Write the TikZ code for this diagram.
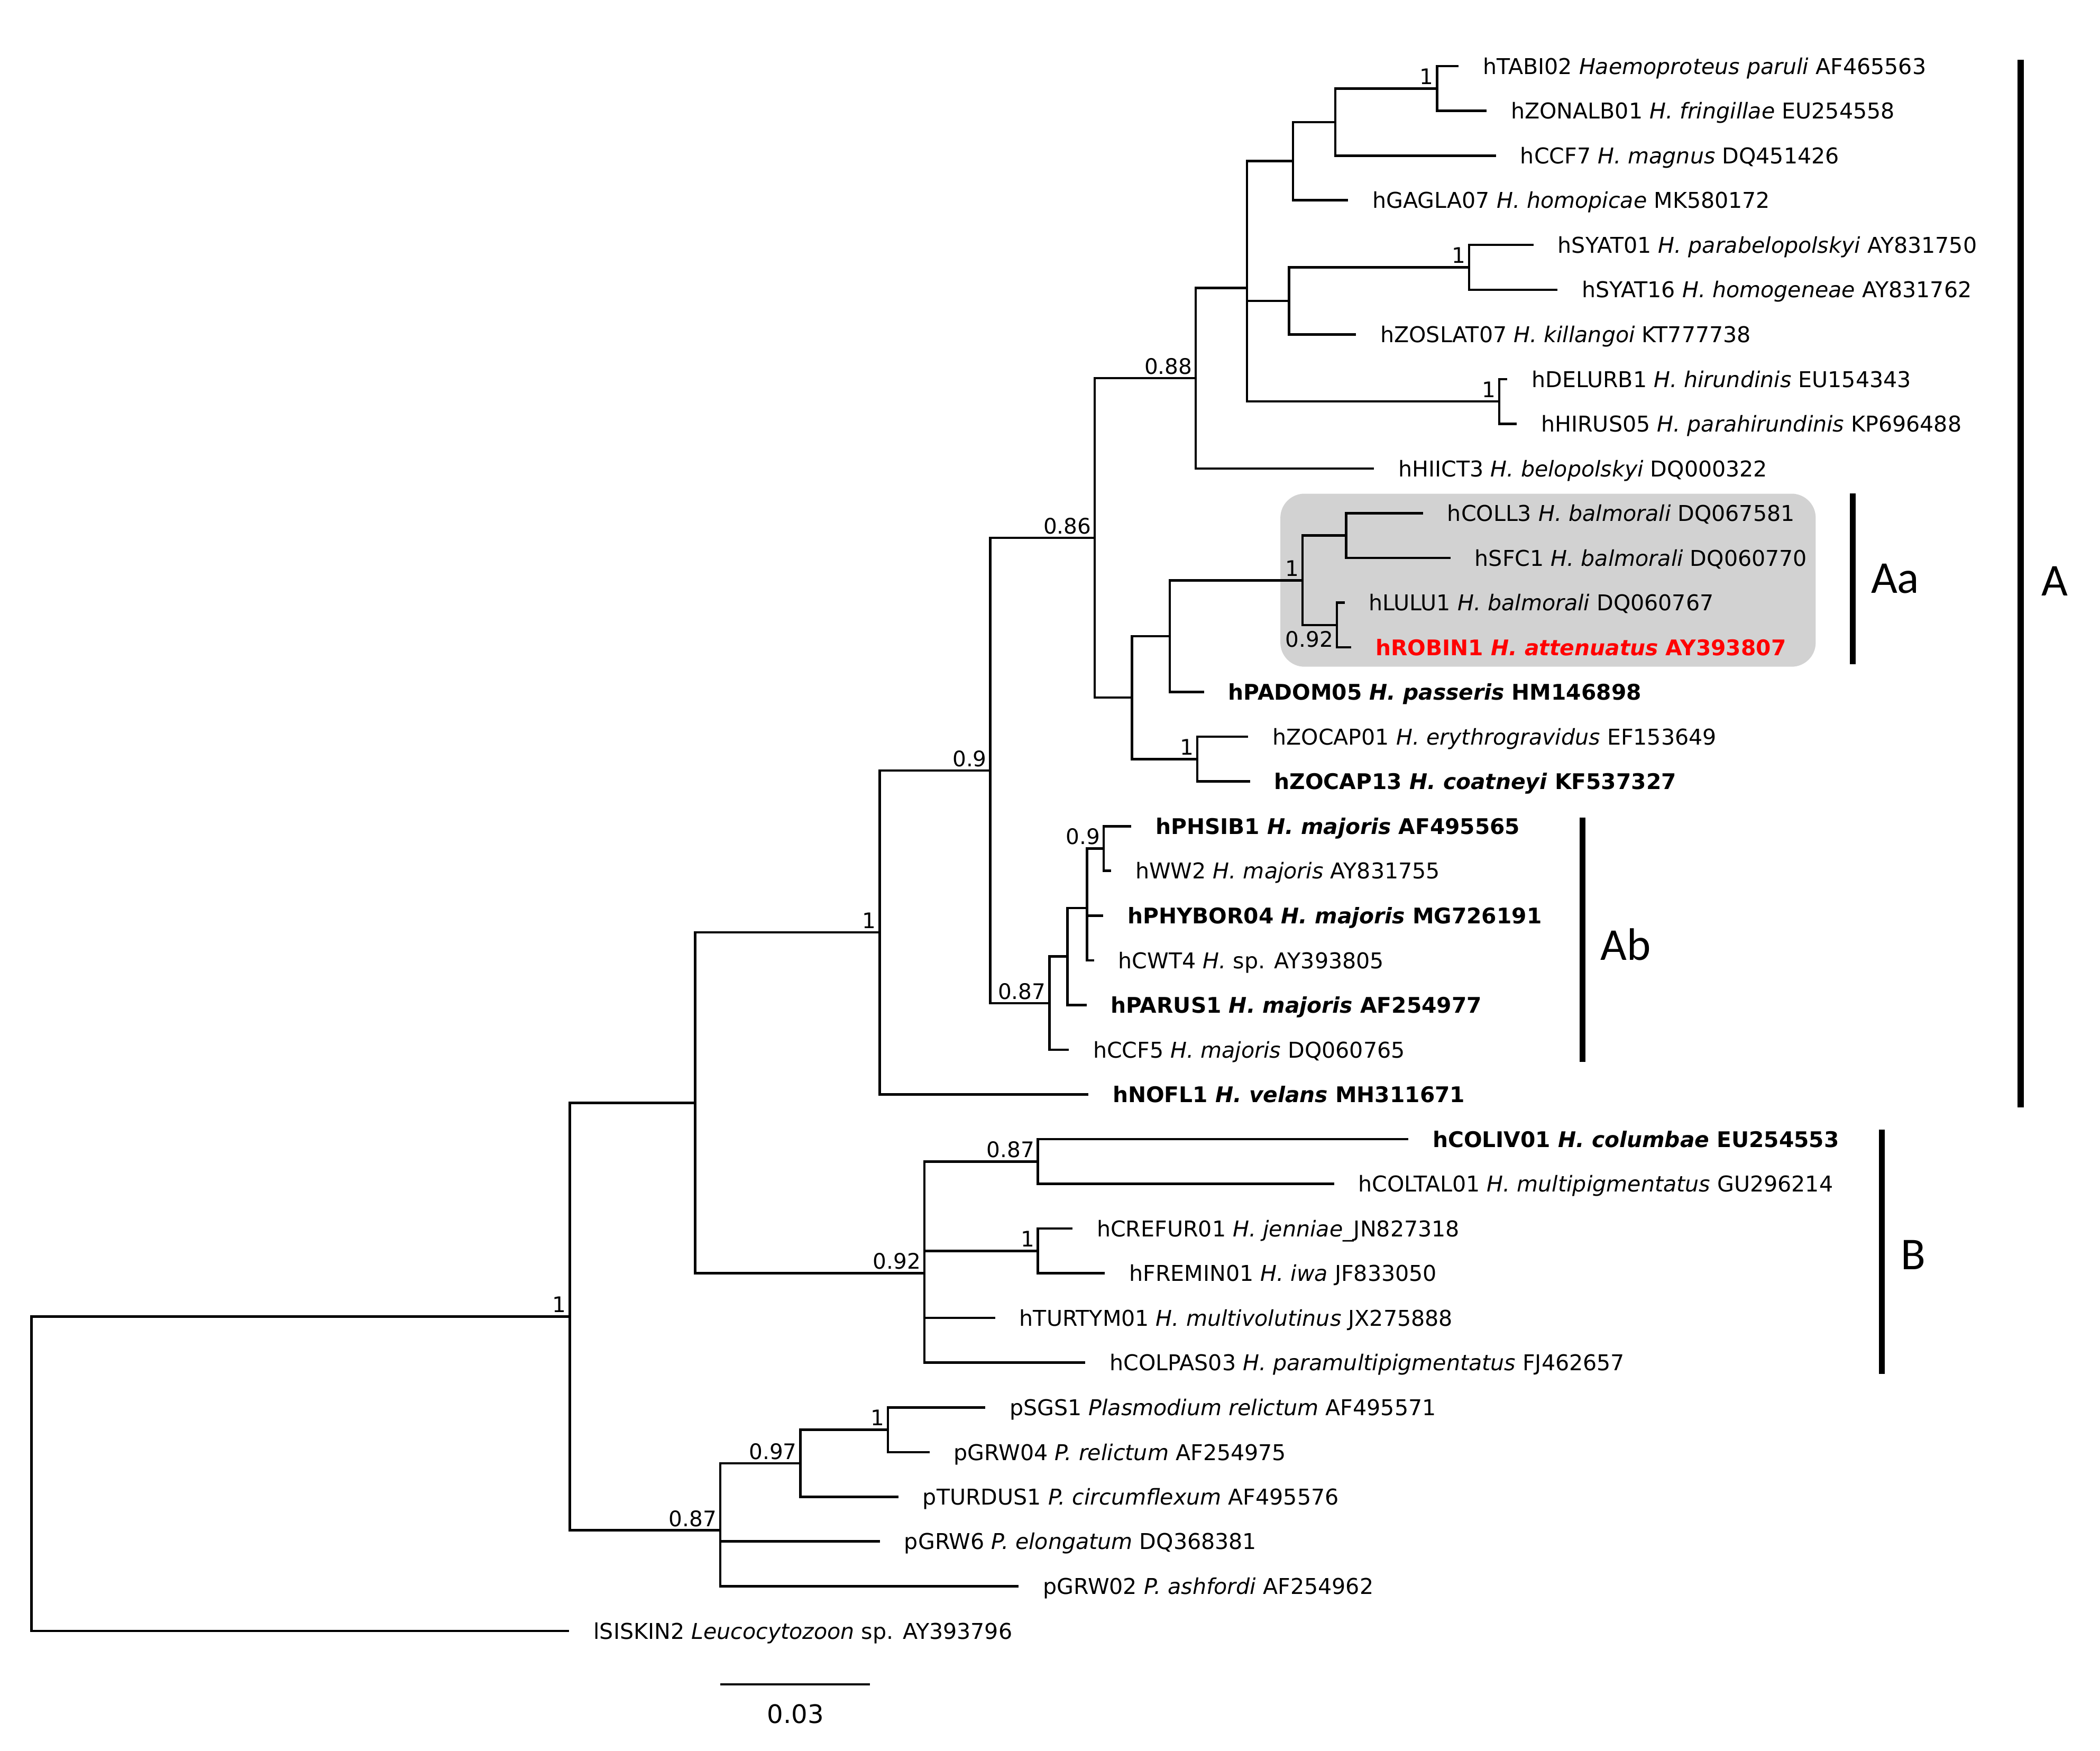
\documentclass[tikz,border=0pt]{standalone}
\usepackage{fontspec}
\setmainfont{DejaVu Sans}
\newfontfamily\cladefont{Carlito}
\usepackage{tikz}
\usetikzlibrary{calc}

\definecolor{cladegray}{RGB}{210,210,210}
\definecolor{hostred}{RGB}{255,0,0}

\tikzset{
  branch/.style={line width=1.8pt},
  cladebar/.style={line width=4.5pt},
  leaf/.style={anchor=base west, inner sep=0pt, font=\fontsize{16.25}{19}\selectfont},
  leafbold/.style={leaf, font=\fontsize{16.1}{19}\selectfont\bfseries},
  supp/.style={anchor=base east, inner sep=0pt, font=\fontsize{16}{19}\selectfont},
  cladename/.style={inner sep=0pt, font=\fontsize{34}{40}\selectfont\cladefont},
}

\begin{document}
\begin{tikzpicture}[x=1pt,y=1pt,yscale=-1]

%set diagram size to the figure, y runs downwards
\useasboundingbox (0,0) rectangle (1568,1307);

%Shaded box [clade Aa]
\fill [cladegray, rounded corners=18pt] (956,368.6) rectangle (1355.7,497.8);

% Tips
\coordinate (l1) at (1089,49.4);
\coordinate (l2) at (1110,82.8);
\coordinate (l3) at (1117,116.2);
\coordinate (l4) at (1006.6,149.5);
\coordinate (l5) at (1145,182.9);
\coordinate (l6) at (1163,216.3);
\coordinate (l7) at (1012.5,249.7);
\coordinate (l8) at (1125.5,283.1);
\coordinate (l9) at (1132.5,316.4);
\coordinate (l10) at (1026,349.8);
\coordinate (l11) at (1062.5,383.2);
\coordinate (l12) at (1083,416.6);
\coordinate (l13) at (1004,450);
\coordinate (l14) at (1009,483.3);
\coordinate (l15) at (899,516.7);
\coordinate (l16) at (932,550.1);
\coordinate (l17) at (933.3,583.5);
\coordinate (l18) at (844.6,616.9);
\coordinate (l19) at (829.6,650.2);
\coordinate (l20) at (823.7,683.6);
\coordinate (l21) at (816.8,717);
\coordinate (l22) at (811.3,750.4);
\coordinate (l23) at (798,783.8);
\coordinate (l24) at (812.6,817.1);
\coordinate (l25) at (1051.5,850.5);
\coordinate (l26) at (996.1,883.9);
\coordinate (l27) at (800.8,917.3);
\coordinate (l28) at (825,950.7);
\coordinate (l29) at (743,984);
\coordinate (l30) at (810.3,1017.4);
\coordinate (l31) at (735.6,1050.8);
\coordinate (l32) at (694,1084.2);
\coordinate (l33) at (670.8,1117.6);
\coordinate (l34) at (657,1150.9);
\coordinate (l35) at (760.5,1184.3);
\coordinate (l36) at (425,1217.7);

% Inner nodes
\coordinate (n1) at (1073,66.1);
\coordinate (n2) at (997,91.15);
\coordinate (n3) at (965.5,120.3);
\coordinate (n4) at (1097,199.6);
\coordinate (n5) at (962.5,224.65);
\coordinate (n6) at (1119.5,299.75);
\coordinate (n7) at (931,214.9);
\coordinate (n8) at (892.8,282.35);
\coordinate (n9) at (817.4,401.6);
\coordinate (n10) at (845.3,520.9);
\coordinate (n11) at (873.5,475);
\coordinate (n12) at (972.6,433.3);
\coordinate (n13) at (1005,399.9);
\coordinate (n14) at (998.2,466.65);
\coordinate (n15) at (894,566.8);
\coordinate (n16) at (739.4,575.3);
\coordinate (n17) at (783.5,749);
\coordinate (n18) at (797,714.2);
\coordinate (n19) at (811.7,678.05);
\coordinate (n20) at (824,633.55);
\coordinate (n21) at (656.8,696.2);
\coordinate (n22) at (775,867.2);
\coordinate (n23) at (775,934);
\coordinate (n24) at (690.2,950.65);
\coordinate (n25) at (519,823.4);
\coordinate (n26) at (425.4,983);
\coordinate (n27) at (663,1067.5);
\coordinate (n28) at (597.6,1092.55);
\coordinate (n29) at (537.8,1142.6);
\coordinate (root) at (23.6,1100.35);

%Branches
\draw [branch] (n1) |- (l1) (n1) |- (l2);
\draw [branch] (n2) |- (n1) (n2) |- (l3);
\draw [branch] (n3) |- (n2) (n3) |- (l4);
\draw [branch] (n4) |- (l5) (n4) |- (l6);
\draw [branch] (n5) |- (n4) (n5) |- (l7);
\draw [branch] (n6) |- (l8) (n6) |- (l9);
\draw [branch] (n7) |- (n3) (n7) |- (n5) (n7) |- (n6);
\draw [branch] (n8) |- (n7) (n8) |- (l10);
\draw [branch] (n13) |- (l11) (n13) |- (l12);
\draw [branch] (n14) |- (l13) (n14) |- (l14);
\draw [branch] (n12) |- (n13) (n12) |- (n14);
\draw [branch] (n11) |- (n12) (n11) |- (l15);
\draw [branch] (n15) |- (l16) (n15) |- (l17);
\draw [branch] (n10) |- (n11) (n10) |- (n15);
\draw [branch] (n9) |- (n8) (n9) |- (n10);
\draw [branch] (n20) |- (l18) (n20) |- (l19);
\draw [branch] (n19) |- (n20) (n19) |- (l20) (n19) |- (l21);
\draw [branch] (n18) |- (n19) (n18) |- (l22);
\draw [branch] (n17) |- (n18) (n17) |- (l23);
\draw [branch] (n16) |- (n9) (n16) |- (n17);
\draw [branch] (n21) |- (n16) (n21) |- (l24);
\draw [branch] (n22) |- (l25) (n22) |- (l26);
\draw [branch] (n23) |- (l27) (n23) |- (l28);
\draw [branch] (n24) |- (n22) (n24) |- (n23) (n24) |- (l29) (n24) |- (l30);
\draw [branch] (n25) |- (n21) (n25) |- (n24);
\draw [branch] (n27) |- (l31) (n27) |- (l32);
\draw [branch] (n28) |- (n27) (n28) |- (l33);
\draw [branch] (n29) |- (n28) (n29) |- (l34) (n29) |- (l35);
\draw [branch] (n26) |- (n25) (n26) |- (n29);
\draw [branch] (root) |- (n26) (root) |- (l36);

% Text Node
\node [leaf] (t1) at ($(l1)+(18,6)$) {hTABI02 \textit{Haemoproteus paruli} AF465563};
\node [leaf] (t2) at ($(l2)+(18,6)$) {hZONALB01 \textit{H. fringillae} EU254558};
\node [leaf] (t3) at ($(l3)+(18,6)$) {hCCF7 \textit{H. magnus} DQ451426};
\node [leaf] (t4) at ($(l4)+(18,6)$) {hGAGLA07 \textit{H. homopicae} MK580172};
\node [leaf] (t5) at ($(l5)+(18,6)$) {hSYAT01 \textit{H. parabelopolskyi} AY831750};
\node [leaf] (t6) at ($(l6)+(18,6)$) {hSYAT16 \textit{H. homogeneae} AY831762};
\node [leaf] (t7) at ($(l7)+(18,6)$) {hZOSLAT07 \textit{H. killangoi} KT777738};
\node [leaf] (t8) at ($(l8)+(18,6)$) {hDELURB1 \textit{H. hirundinis} EU154343};
\node [leaf] (t9) at ($(l9)+(18,6)$) {hHIRUS05 \textit{H. parahirundinis} KP696488};
\node [leaf] (t10) at ($(l10)+(18,6)$) {hHIICT3 \textit{H. belopolskyi} DQ000322};
\node [leaf] (t11) at ($(l11)+(18,6)$) {hCOLL3 \textit{H. balmorali} DQ067581};
\node [leaf] (t12) at ($(l12)+(18,6)$) {hSFC1 \textit{H. balmorali} DQ060770};
\node [leaf] (t13) at ($(l13)+(18,6)$) {hLULU1 \textit{H. balmorali} DQ060767};
\node [leafbold, text=hostred] (t14) at ($(l14)+(18,6)$) {hROBIN1 \textit{H. attenuatus} AY393807};
\node [leafbold] (t15) at ($(l15)+(18,6)$) {hPADOM05 \textit{H. passeris} HM146898};
\node [leaf] (t16) at ($(l16)+(18,6)$) {hZOCAP01 \textit{H. erythrogravidus} EF153649};
\node [leafbold] (t17) at ($(l17)+(18,6)$) {hZOCAP13 \textit{H. coatneyi} KF537327};
\node [leafbold] (t18) at ($(l18)+(18,6)$) {hPHSIB1 \textit{H. majoris} AF495565};
\node [leaf] (t19) at ($(l19)+(18,6)$) {hWW2 \textit{H. majoris} AY831755};
\node [leafbold] (t20) at ($(l20)+(18,6)$) {hPHYBOR04 \textit{H. majoris} MG726191};
\node [leaf] (t21) at ($(l21)+(18,6)$) {hCWT4 \textit{H.} sp. AY393805};
\node [leafbold] (t22) at ($(l22)+(18,6)$) {hPARUS1 \textit{H. majoris} AF254977};
\node [leaf] (t23) at ($(l23)+(18,6)$) {hCCF5 \textit{H. majoris} DQ060765};
\node [leafbold] (t24) at ($(l24)+(18,6)$) {hNOFL1 \textit{H. velans} MH311671};
\node [leafbold] (t25) at ($(l25)+(18,6)$) {hCOLIV01 \textit{H. columbae} EU254553};
\node [leaf] (t26) at ($(l26)+(18,6)$) {hCOLTAL01 \textit{H. multipigmentatus} GU296214};
\node [leaf] (t27) at ($(l27)+(18,6)$) {hCREFUR01 \textit{H. jenniae}\_JN827318};
\node [leaf] (t28) at ($(l28)+(18,6)$) {hFREMIN01 \textit{H. iwa} JF833050};
\node [leaf] (t29) at ($(l29)+(18,6)$) {hTURTYM01 \textit{H. multivolutinus} JX275888};
\node [leaf] (t30) at ($(l30)+(18,6)$) {hCOLPAS03 \textit{H. paramultipigmentatus} FJ462657};
\node [leaf] (t31) at ($(l31)+(18,6)$) {pSGS1 \textit{Plasmodium relictum} AF495571};
\node [leaf] (t32) at ($(l32)+(18,6)$) {pGRW04 \textit{P. relictum} AF254975};
\node [leaf] (t33) at ($(l33)+(18,6)$) {pTURDUS1 \textit{P. circumflexum} AF495576};
\node [leaf] (t34) at ($(l34)+(18,6)$) {pGRW6 \textit{P. elongatum} DQ368381};
\node [leaf] (t35) at ($(l35)+(18,6)$) {pGRW02 \textit{P. ashfordi} AF254962};
\node [leaf] (t36) at ($(l36)+(18,6)$) {lSISKIN2 \textit{Leucocytozoon} sp. AY393796};

% Support values
\node [supp] (s1) at ($(n1)+(-2.5,-3)$) {1};
\node [supp] (s4) at ($(n4)+(-2.5,-3)$) {1};
\node [supp] (s6) at ($(n6)+(-2.5,-3)$) {1};
\node [supp] (s8) at ($(n8)+(-2.5,-3)$) {0.88};
\node [supp] (s9) at ($(n9)+(-2.5,-3)$) {0.86};
\node [supp] (s12) at ($(n12)+(-2.5,-3)$) {1};
\node [supp] (s14) at ($(n14|-l14)+(-2.5,0)$) {0.92};
\node [supp] (s15) at ($(n15)+(-2.5,-3)$) {1};
\node [supp] (s16) at ($(n16)+(-2.5,-3)$) {0.9};
\node [supp] (s17) at ($(n17)+(-2.5,-3)$) {0.87};
\node [supp] (s20) at ($(n20)+(-2.5,-3)$) {0.9};
\node [supp] (s21) at ($(n21)+(-2.5,-3)$) {1};
\node [supp] (s22) at ($(n22)+(-2.5,-3)$) {0.87};
\node [supp] (s23) at ($(n23)+(-2.5,-3)$) {1};
\node [supp] (s24) at ($(n24)+(-2.5,-3)$) {0.92};
\node [supp] (s26) at ($(n26)+(-2.5,-3)$) {1};
\node [supp] (s27) at ($(n27)+(-2.5,-3)$) {1};
\node [supp] (s28) at ($(n28)+(-2.5,-3)$) {0.97};
\node [supp] (s29) at ($(n29)+(-2.5,-3)$) {0.87};

%Clade bars
\draw [cladebar] (1508.8,44.5) -- (1508.8,826.9);
\draw [cladebar] (1383.3,368.5) -- (1383.3,496);
\draw [cladebar] (1181.5,610.5) -- (1181.5,792.7);
\draw [cladebar] (1405,843.5) -- (1405,1026);

% Clade names
\node [cladename] (cA) at (1534,434) {A};
\node [cladename] (cAa) at (1415,432) {Aa};
\node [cladename] (cAb) at (1214,705) {Ab};
\node [cladename] (cB) at (1428.5,937) {B};

%Scale bar
\coordinate (sb0) at (537.8,1257.6);
\coordinate (sb1) at (649.7,1257.6);
\draw [branch] (sb0) -- (sb1);
\node [anchor=base, inner sep=0pt, font=\fontsize{19}{22}\selectfont] (sbl) at (594,1286.8) {0.03};

\end{tikzpicture}
\end{document}
